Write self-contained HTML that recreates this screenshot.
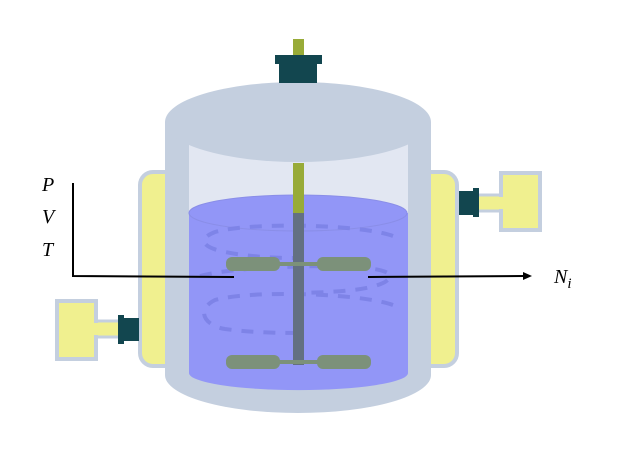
<!DOCTYPE html>
<html><head><style>body{margin:0;background:#fff}svg{display:block}</style></head><body>
<svg width="617" height="465" viewBox="0 0 617 465" xmlns="http://www.w3.org/2000/svg">
<!-- jackets -->
<rect x="140" y="172" width="56" height="194" rx="13" fill="#f0f08f" stroke="#c4cfdf" stroke-width="4"/>
<rect x="400" y="172" width="57" height="194" rx="13" fill="#f0f08f" stroke="#c4cfdf" stroke-width="4"/>
<!-- left port -->
<rect x="90" y="321" width="30" height="16" fill="#f0f08f" stroke="#c4cfdf" stroke-width="3"/>
<rect x="57" y="301" width="39" height="58" fill="#f0f08f" stroke="#c4cfdf" stroke-width="4"/>
<rect x="92" y="323" width="10" height="12" fill="#f0f08f"/>
<rect x="118" y="315" width="6" height="29" fill="#12464f"/>
<rect x="122" y="318" width="17" height="23" fill="#12464f"/>
<!-- right port -->
<rect x="477" y="195" width="30" height="16" fill="#f0f08f" stroke="#c4cfdf" stroke-width="3"/>
<rect x="501" y="173" width="39" height="57" fill="#f0f08f" stroke="#c4cfdf" stroke-width="4"/>
<rect x="495" y="197" width="10" height="12" fill="#f0f08f"/>
<rect x="459" y="191" width="20" height="24" fill="#12464f"/>
<rect x="473" y="188" width="6" height="29" fill="#12464f"/>
<!-- vessel -->
<ellipse cx="298" cy="375" rx="133" ry="38" fill="#c4cfdf"/>
<rect x="165" y="122" width="266" height="253" fill="#c4cfdf"/>
<!-- inner -->
<rect x="189" y="140" width="219" height="233" fill="#e2e7f2"/>
<path d="M189,213 L189,373 A109,17 0 0 0 408,373 L408,213 Z" fill="#9296f7"/>
<ellipse cx="298" cy="213" rx="109" ry="18" fill="#9296f7" stroke="#8a8ee8" stroke-width="1"/>
<ellipse cx="298" cy="122" rx="133" ry="40" fill="#c4cfdf"/>
<!-- swirl -->
<g fill="none" stroke="#7c82e6" stroke-width="4" stroke-dasharray="12,10" opacity="0.9">
<path d="M393,236 C360,224 250,222 215,232 C195,240 205,248 225,252 C255,258 285,258 300,258"/>
<path d="M200,276 C230,268 290,266 340,266 C380,268 400,272 385,282 C370,290 340,292 300,293"/>
<path d="M393,305 C360,293 250,290 215,300 C195,310 205,326 225,329 C255,333 285,333 300,333"/>
</g>
<!-- shaft -->
<rect x="293" y="163" width="11" height="50" fill="#98ab38"/>
<rect x="293" y="213" width="11" height="152" fill="#637082"/>
<!-- impellers -->
<rect x="278" y="262" width="42" height="4" fill="#7c917a"/>
<rect x="226" y="257" width="54" height="14" rx="6" fill="#7c917a"/>
<rect x="317" y="257" width="54" height="14" rx="6" fill="#7c917a"/>
<rect x="278" y="360" width="42" height="4" fill="#7c917a"/>
<rect x="226" y="355" width="54" height="14" rx="6" fill="#7c917a"/>
<rect x="317" y="355" width="54" height="14" rx="6" fill="#7c917a"/>
<!-- motor -->
<rect x="293" y="39" width="11" height="17" fill="#98ab38"/>
<rect x="279" y="62" width="38" height="21" fill="#12464f"/>
<rect x="275" y="55" width="47" height="9" fill="#12464f"/>
<!-- lines -->
<polyline points="73,183 73,276 234,277" fill="none" stroke="#000" stroke-width="2"/>
<line x1="368" y1="277" x2="524" y2="276" stroke="#000" stroke-width="2"/>
<polygon points="532,276 523,272 523,280" fill="#000"/>
<g font-family="Liberation Serif, serif" font-style="italic" font-size="20" fill="#000">
<text x="42" y="191">P</text>
<text x="42" y="223">V</text>
<text x="42" y="256">T</text>
<text x="554" y="283">N<tspan font-size="15" dy="5">i</tspan></text>
</g>
</svg>
</body></html>
